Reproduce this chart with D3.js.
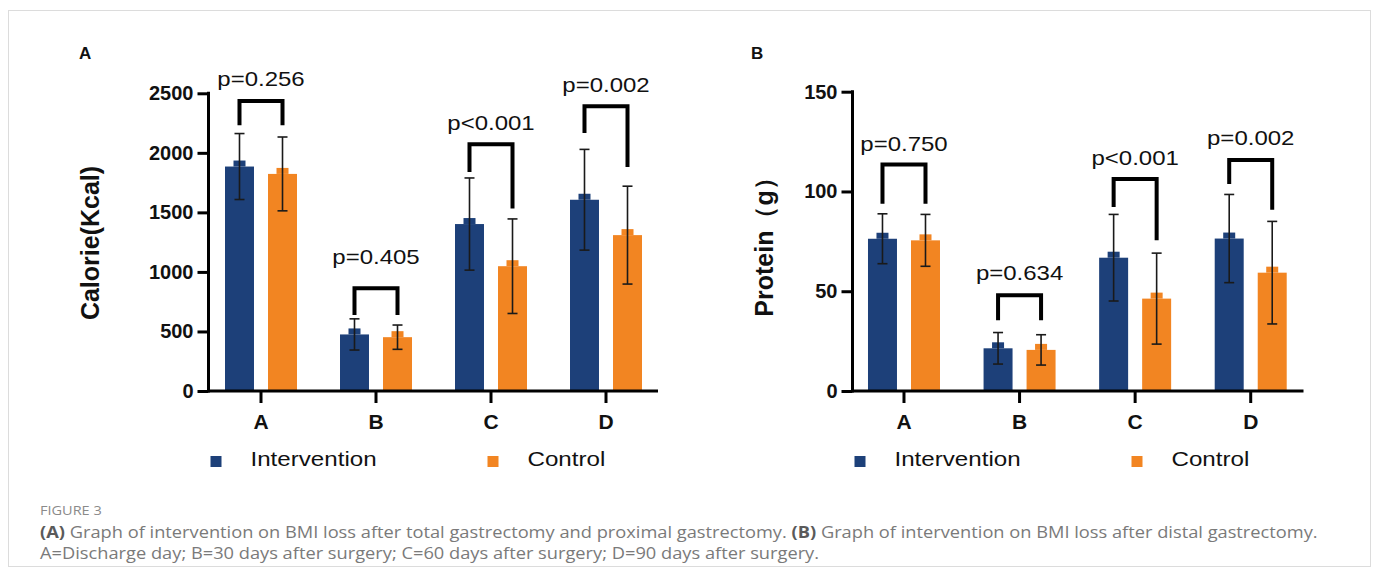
<!DOCTYPE html>
<html><head><meta charset="utf-8">
<script src="https://cdn.jsdelivr.net/npm/d3@7"></script>
<style>
body{margin:0;background:#fff}
svg{display:block}
</style>
</head><body>
<svg id="c" width="1378" height="577"></svg>
<script>
// ---------- data ----------
const categories = ["A", "B", "C", "D"];
const seriesNames = ["Intervention", "Control"];

const calorieIntervention = [1885, 475, 1402, 1606];
const calorieInterventionSD = [277, 131, 387, 423];
const calorieControl = [1823, 452, 1048, 1309];
const calorieControlSD = [310, 102, 397, 411];
const caloriePValues = ["p=0.256", "p=0.405", "p<0.001", "p=0.002"];
const calorieBracketTop = [2435, 862, 2072, 2391];
const calorieBracketLeftEnd = [2231, 638, 1840, 2167];
const calorieBracketRightEnd = [2231, 638, 1533, 1882];
const calorieLabelLevel = [2561, 1065, 2195, 2511];
const calorieTicks = [0, 500, 1000, 1500, 2000, 2500];

const proteinIntervention = [76.3, 21.4, 66.8, 76.4];
const proteinInterventionSD = [12.5, 7.9, 21.7, 22.1];
const proteinControl = [75.5, 20.6, 46.3, 59.3];
const proteinControlSD = [13, 7.6, 22.8, 25.7];
const proteinPValues = ["p=0.750", "p=0.634", "p<0.001", "p=0.002"];
const proteinBracketTop = [113.5, 48, 106.3, 115.8];
const proteinBracketLeftEnd = [93.8, 35.5, 92.2, 103.8];
const proteinBracketRightEnd = [93.8, 35.5, 75.5, 90.8];
const proteinLabelLevel = [120.5, 55.5, 113.5, 123.5];
const proteinTicks = [0, 50, 100, 150];

// ---------- styles ----------
const COLORS = {Intervention: "#1d4079", Control: "#f28522"};
const FONT = "'Liberation Sans', Arial, Helvetica, sans-serif";

const svg = d3.select("#c");

// frame
svg.append("rect").attr("x", 8.5).attr("y", 10.5).attr("width", 1362).attr("height", 556)
  .attr("fill", "none").attr("stroke", "#dcdcdc").attr("stroke-width", 1);

function drawPanel(cfg) {
  const g = svg.append("g");
  const y = d3.scaleLinear().domain(cfg.domain).range([391, cfg.yTop]);
  const x = d3.scaleBand().domain(categories).range(cfg.xRange).paddingInner(0).paddingOuter(0);
  const xs = d3.scaleBand().domain(seriesNames).range([-36, 36]).paddingInner(0.326);

  const rows = categories.map((c, i) => ({
    cat: c,
    vals: [
      {s: "Intervention", m: cfg.iv[i], sd: cfg.ivSD[i]},
      {s: "Control", m: cfg.ct[i], sd: cfg.ctSD[i]}
    ],
    p: cfg.p[i], top: cfg.bTop[i], le: cfg.bL[i], re: cfg.bR[i], lab: cfg.lab[i]
  }));

  // bars
  const grp = g.selectAll("g.cat").data(rows).join("g")
    .attr("transform", d => `translate(${x(d.cat) + x.bandwidth() / 2},0)`);
  const bw = xs.bandwidth();
  grp.selectAll("rect.bar").data(d => d.vals).join("rect")
    .attr("x", d => xs(d.s)).attr("width", bw)
    .attr("y", d => y(d.m)).attr("height", d => y(0) - y(d.m))
    .attr("fill", d => COLORS[d.s]);
  grp.selectAll("rect.bump").data(d => d.vals).join("rect")
    .attr("x", d => xs(d.s) + bw / 2 - 6).attr("width", 12)
    .attr("y", d => y(d.m) - 6).attr("height", 6)
    .attr("fill", d => COLORS[d.s]);

  // error bars
  const eb = grp.selectAll("g.eb").data(d => d.vals).join("g")
    .attr("transform", d => `translate(${xs(d.s) + bw / 2},0)`)
    .attr("stroke", "#1a1a1a").attr("stroke-width", 1.6);
  eb.append("line").attr("x1", 0).attr("x2", 0)
    .attr("y1", d => y(d.m + d.sd)).attr("y2", d => y(d.m - d.sd));
  eb.append("line").attr("x1", -5).attr("x2", 5)
    .attr("y1", d => y(d.m + d.sd)).attr("y2", d => y(d.m + d.sd));
  eb.append("line").attr("x1", -5).attr("x2", 5)
    .attr("y1", d => y(d.m - d.sd)).attr("y2", d => y(d.m - d.sd));

  // brackets
  const cx = s => xs(s) + bw / 2;
  grp.append("path")
    .attr("d", d => `M${cx("Intervention")},${y(d.le)}V${y(d.top)}H${cx("Control")}V${y(d.re)}`)
    .attr("fill", "none").attr("stroke", "#000").attr("stroke-width", 4)
    .attr("stroke-linejoin", "miter");
  grp.append("text")
    .attr("transform", d => `translate(0,${y(d.lab)}) scale(1.2,1)`)
    .attr("text-anchor", "middle").attr("font-family", FONT).attr("font-size", 20)
    .attr("fill", "#111").text(d => d.p);

  // y axis
  const ya = g.append("g").attr("transform", `translate(${cfg.axisX},0)`)
    .call(d3.axisLeft(y).tickValues(cfg.ticks).tickSize(11).tickPadding(4).tickFormat(d3.format("d")));
  ya.select(".domain").remove();
  ya.selectAll(".tick line").attr("stroke", "#000").attr("stroke-width", 3);
  ya.selectAll(".tick text").attr("font-family", FONT).attr("font-size", 20)
    .attr("font-weight", "bold").attr("fill", "#111");
  g.append("line").attr("x1", cfg.axisX).attr("x2", cfg.axisX)
    .attr("y1", y(cfg.domain[1]) - 1.5).attr("y2", y(0) + 1.5)
    .attr("stroke", "#000").attr("stroke-width", 3);

  // x axis
  g.append("line").attr("x1", cfg.axisX).attr("x2", cfg.xEnd)
    .attr("y1", y(0)).attr("y2", y(0)).attr("stroke", "#000").attr("stroke-width", 3);
  const xa = g.append("g").attr("transform", `translate(0,${y(0)})`)
    .call(d3.axisBottom(x).tickSize(12).tickPadding(11));
  xa.select(".domain").remove();
  xa.selectAll(".tick line").attr("stroke", "#000").attr("stroke-width", 3);
  xa.selectAll(".tick text").attr("font-family", FONT).attr("font-size", 21)
    .attr("font-weight", "bold").attr("fill", "#111");

  // y title
  g.append("text").attr("transform", `translate(${cfg.titleX},${cfg.titleY}) rotate(-90)`)
    .attr("text-anchor", "middle").attr("font-family", FONT).attr("font-size", 25)
    .attr("font-weight", "bold").attr("fill", "#111").text(cfg.title);

  // panel letter
  g.append("text").attr("x", cfg.letterX).attr("y", 59).attr("font-family", FONT)
    .attr("font-size", 17).attr("font-weight", "bold").attr("fill", "#111").text(cfg.letter);

  // legend
  const lg = g.append("g").attr("transform", `translate(${cfg.axisX},0)`);
  const lx = [2, 279];
  seriesNames.forEach((s, i) => {
    lg.append("rect").attr("x", lx[i]).attr("y", 456).attr("width", 11).attr("height", 11)
      .attr("fill", COLORS[s]);
    lg.append("text").attr("transform", `translate(${lx[i] + 40},466) scale(1.15,1)`)
      .attr("font-family", FONT).attr("font-size", 21).attr("fill", "#111").text(s);
  });
}

drawPanel({
  domain: [0, 2500], yTop: 93.3, xRange: [203.5, 663.5], axisX: 208.5, xEnd: 658,
  iv: calorieIntervention, ivSD: calorieInterventionSD, ct: calorieControl, ctSD: calorieControlSD,
  p: caloriePValues, bTop: calorieBracketTop, bL: calorieBracketLeftEnd, bR: calorieBracketRightEnd,
  lab: calorieLabelLevel, ticks: calorieTicks,
  title: "Calorie(Kcal)", titleX: 98.5, titleY: 243, letter: "A", letterX: 79
});
drawPanel({
  domain: [0, 150], yTop: 91.7, xRange: [846.2, 1308.5], axisX: 852.5, xEnd: 1303.5,
  iv: proteinIntervention, ivSD: proteinInterventionSD, ct: proteinControl, ctSD: proteinControlSD,
  p: proteinPValues, bTop: proteinBracketTop, bL: proteinBracketLeftEnd, bR: proteinBracketRightEnd,
  lab: proteinLabelLevel, ticks: proteinTicks,
  title: "Protein（g）", titleX: 773, titleY: 241, letter: "B", letterX: 751
});

// caption
const CAP = "'Open Sans', 'Noto Sans', sans-serif";
svg.append("text").attr("transform", "translate(40,515) scale(1.1,1)").attr("font-family", CAP)
  .attr("font-size", 13.2).attr("fill", "#8a8a8a").text("FIGURE 3");
const l1 = svg.append("text").attr("transform", "translate(40,538) scale(1.1,1)").attr("font-family", CAP)
  .attr("font-size", 16.6).attr("fill", "#7a7a7a");
l1.append("tspan").attr("font-weight", "bold").attr("fill", "#5a5a5a").text("(A)");
l1.append("tspan").text(" Graph of intervention on BMI loss after total gastrectomy and proximal gastrectomy. ");
l1.append("tspan").attr("font-weight", "bold").attr("fill", "#5a5a5a").text("(B)");
l1.append("tspan").text(" Graph of intervention on BMI loss after distal gastrectomy.");
svg.append("text").attr("transform", "translate(40,559) scale(1.1,1)").attr("font-family", CAP)
  .attr("font-size", 16.6).attr("fill", "#7a7a7a")
  .text("A=Discharge day; B=30 days after surgery; C=60 days after surgery; D=90 days after surgery.");
</script>
</body></html>
